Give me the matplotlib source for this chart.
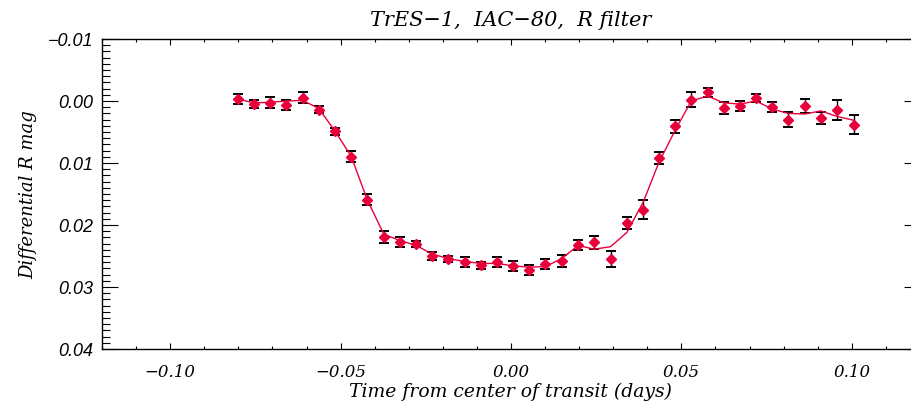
import matplotlib.pyplot as plt
from matplotlib.ticker import MultipleLocator, FuncFormatter


# Light curve (time in days, differential R mag)
time = [-0.0801, -0.0754, -0.0706, -0.0659, -0.0611, -0.0564, -0.0517, -0.0469,
        -0.0422, -0.0373, -0.0326, -0.0278, -0.0231, -0.0184, -0.0136, -0.0088,
        -0.0041, 0.0007, 0.0054, 0.0101, 0.0149, 0.0197, 0.0244, 0.0292,
        0.0340, 0.0388, 0.0434, 0.0481, 0.0529, 0.0577, 0.0624, 0.0672,
        0.0719, 0.0766, 0.0814, 0.0862, 0.0909, 0.0957, 0.1005]
mag = [-0.0003, 0.0005, 0.0003, 0.0006, -0.0005, 0.0014, 0.0049, 0.0090,
       0.0159, 0.0219, 0.0227, 0.0231, 0.0250, 0.0255, 0.0260, 0.0265,
       0.0259, 0.0266, 0.0272, 0.0263, 0.0258, 0.0232, 0.0228, 0.0255,
       0.0197, 0.0175, 0.0092, 0.0041, -0.0002, -0.0014, 0.0011, 0.0008,
       -0.0005, 0.0010, 0.0030, 0.0008, 0.0027, 0.0014, 0.0038]
err = [0.0008, 0.0006, 0.0009, 0.0008, 0.0009, 0.0006, 0.0006, 0.0009,
       0.0009, 0.0010, 0.0008, 0.0005, 0.0007, 0.0005, 0.0008, 0.0006,
       0.0008, 0.0008, 0.0008, 0.0008, 0.0010, 0.0008, 0.0010, 0.0013,
       0.0010, 0.0015, 0.0009, 0.0010, 0.0012, 0.0007, 0.0010, 0.0008,
       0.0006, 0.0008, 0.0012, 0.0012, 0.0010, 0.0016, 0.0016]
model = [-0.0003, 0.0003, 0.0002, 0.0000, -0.0001, 0.0012, 0.0048, 0.0089,
         0.0159, 0.0215, 0.0225, 0.0233, 0.0247, 0.0254, 0.0259, 0.0262,
         0.0262, 0.0266, 0.0268, 0.0267, 0.0254, 0.0233, 0.0239, 0.0235,
         0.0212, 0.0163, 0.0099, 0.0048, 0.0000, -0.0008, 0.0003, 0.0005,
         0.0000, 0.0013, 0.0020, 0.0021, 0.0016, 0.0025, 0.0031]

RED = "#e8003a"
serif = {"family": "DejaVu Serif", "style": "italic"}
sans = {"family": "Liberation Sans", "style": "italic"}


def minus_fmt(fmt):
    return FuncFormatter(lambda v, p: (fmt % v).replace("-", "\u2212"))


fig = plt.figure(figsize=(9.12, 4.02), dpi=100)
# right edge runs past the figure, as in the cropped original
ax = fig.add_axes([102 / 912, 52 / 402, 818 / 912, 310 / 402])

ax.errorbar(time, mag, yerr=err, fmt="none", ecolor="black", elinewidth=1,
            capsize=3.5, capthick=1.4, zorder=2)
ax.plot(time, model, color=RED, lw=1, zorder=3)
ax.plot(time, mag, "D", color=RED, ms=5.5, mec=RED, zorder=4)

ax.set_xlim(-0.12, 0.12)
ax.set_ylim(0.04, -0.01)

ax.xaxis.set_major_locator(MultipleLocator(0.05))
ax.xaxis.set_minor_locator(MultipleLocator(0.01))
ax.yaxis.set_major_locator(MultipleLocator(0.01))
ax.yaxis.set_minor_locator(MultipleLocator(0.001))
ax.xaxis.set_major_formatter(minus_fmt("%.2f"))
ax.yaxis.set_major_formatter(minus_fmt("%.2f"))

# IDL-style ticks: length is a fraction of the plot size
ax.tick_params(which="both", direction="in", top=True, right=True, width=0.8)
ax.tick_params(axis="x", which="major", length=4.5, pad=10)
ax.tick_params(axis="x", which="minor", length=2.2)
ax.tick_params(axis="y", which="major", length=11.8, pad=6)
ax.tick_params(axis="y", which="minor", length=5.9)
for sp in ax.spines.values():
    sp.set_linewidth(1)

for lab in ax.get_xticklabels():
    lab.set_fontfamily(serif["family"])
    lab.set_fontstyle("italic")
    lab.set_fontsize(12)
for lab in ax.get_yticklabels():
    lab.set_fontfamily(sans["family"])
    lab.set_fontstyle("italic")
    lab.set_fontsize(13)

ax.set_title("TrES\u22121,  IAC\u221280,  R filter", fontsize=15, pad=10, **serif)
ax.set_xlabel("Time from center of transit (days)", fontsize=13.5, labelpad=1, **serif)
ax.set_ylabel("Differential R mag", fontsize=13, labelpad=8, **serif)

plt.savefig("out.png", dpi=100)
plt.close()
